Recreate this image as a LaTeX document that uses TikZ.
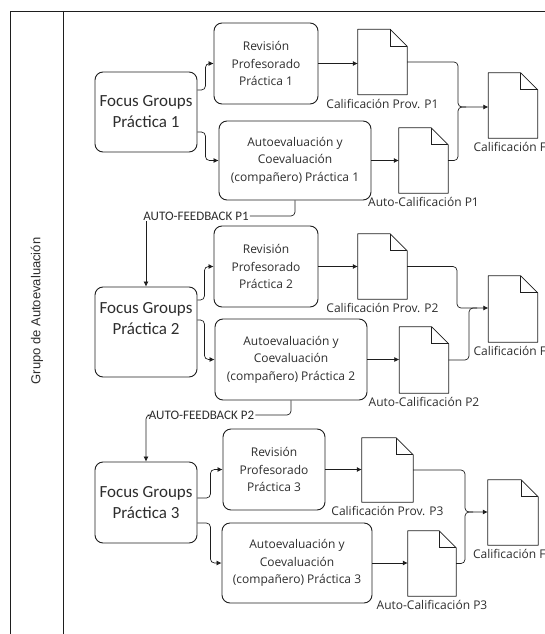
\documentclass[tikz,border=0pt]{standalone}
\usepackage{fontspec}
\setmainfont{Open Sans}
\newfontfamily\calibrifont{Carlito}
\newfontfamily\arialfont{Liberation Sans}
\usetikzlibrary{arrows.meta,positioning,calc}
\definecolor{inkgray}{RGB}{45,45,45}
\definecolor{linegray}{RGB}{30,30,30}

\begin{document}
\begin{tikzpicture}[
  x=1pt, y=-1pt,
  every node/.style={font=\fontsize{12}{17.5}\selectfont, text=inkgray},
  proc/.style={draw=linegray, line width=0.9pt, rounded corners=8pt, align=center, inner sep=2pt},
  focus/.style={proc, minimum width=102pt, font=\calibrifont\fontsize{17}{21}\selectfont},
  doc/.style={minimum width=49pt, minimum height=65pt, inner sep=0pt,
    append after command={\pgfextra{
      \draw[linegray, line width=0.8pt, line join=round] (\tikzlastnode.north west)
        -- ([xshift=-17pt]\tikzlastnode.north east)
        -- ([yshift=-17pt]\tikzlastnode.north east)
        -- (\tikzlastnode.south east) -- (\tikzlastnode.south west) -- cycle;
      \draw[linegray, line width=0.8pt] ([xshift=-17pt]\tikzlastnode.north east)
        |- ([yshift=-17pt]\tikzlastnode.north east);}}},
  lbl/.style={inner sep=1pt},
  fb/.style={inner sep=1pt, font=\calibrifont\fontsize{13}{15}\selectfont},
  link/.style={draw=linegray, line width=0.7pt, rounded corners=4pt},
  conn/.style={link, -{Latex[length=5pt,width=5pt]}}
]
  \useasboundingbox (0,0) rectangle (545,634);
  \clip (0,0) rectangle (545,634);

  % lane frame
  \draw[linegray, line width=0.8pt] (10,640) -- (10,11) -- (560,11);
  \draw[linegray, line width=0.8pt] (63,11) -- (63,640);
  \node[rotate=90, font=\arialfont\fontsize{13}{15}\selectfont] (grp) at (37,311) {Grupo de Autoevaluación};

  % practica 1
  \node[focus, minimum height=80pt] (fg1) at (146,112) {Focus Groups\\Práctica 1};
  \node[proc, minimum width=104pt, minimum height=81pt] (rev1) at (266,63.5) {Revisión\\Profesorado\\Práctica 1};
  \node[proc, minimum width=152pt, minimum height=79pt] (auto1) at (295,160.5) {Autoevaluación y\\Coevaluación\\(compañero) Práctica 1};
  \node[doc] (prov1) at (382.5,62) {};
  \node[doc] (ac1) at (423.5,160.5) {};
  \node[doc] (fin1) at (513,105.5) {};
  \node[lbl, below=3pt of prov1] (prov1l) {Calificación Prov. P1};
  \node[lbl, below=3pt of ac1] (ac1l) {Auto-Calificación P1};
  \node[lbl, anchor=north west] (fin1l) at ([xshift=-16pt,yshift=-3pt]fin1.south west) {Calificación Final};
  \node[fb] (fb1) at (196,216) {AUTO-FEEDBACK P1};
  \coordinate (j1) at (458,107);

  \draw[conn] ([yshift=22pt]fg1.east) -- ++(8,0) |- (rev1.west);
  \draw[conn] ([yshift=-20pt]fg1.east) -- ++(8,0) |- (auto1.west);
  \draw[conn] (rev1.east) -- (rev1.east -| prov1.west);
  \draw[conn] (auto1.east) -- (ac1.west);
  \draw[conn] (prov1.east) -| (j1) -- (j1 -| fin1.west);
  \draw[link] (ac1.east) -| (j1) -- ++(8,0);
  \draw[link] (auto1.south) |- (fb1.east);

  % practica 2
  \node[focus, minimum height=90pt, text depth=28pt] (fg2) at (146,332) {Focus Groups\\Práctica 2};
  \node[proc, minimum width=104pt, minimum height=81pt] (rev2) at (266,266.5) {Revisión\\Profesorado\\Práctica 2};
  \node[proc, minimum width=152pt, minimum height=81pt] (auto2) at (291,359.5) {Autoevaluación y\\Coevaluación\\(compañero) Práctica 2};
  \node[doc] (prov2) at (382.5,266.5) {};
  \node[doc, minimum height=66pt] (ac2) at (424,360) {};
  \node[doc, minimum height=66pt] (fin2) at (513,309) {};
  \node[lbl, below=3pt of prov2] (prov2l) {Calificación Prov. P2};
  \node[lbl, below=3pt of ac2] (ac2l) {Auto-Calificación P2};
  \node[lbl, anchor=north west] (fin2l) at ([xshift=-16pt,yshift=-3pt]fin2.south west) {Calificación Final};
  \node[fb] (fb2) at (201.5,415) {AUTO-FEEDBACK P2};
  \coordinate (j2a) at (457,308);
  \coordinate (j2b) at (469,308);

  \draw[conn] ([yshift=32pt]fg2.east) -- ++(7,0) |- (rev2.west);
  \draw[conn] ([yshift=12pt]fg2.east) -- ++(7,0) |- (auto2.west);
  \draw[conn] (rev2.east) -- (rev2.east -| prov2.west);
  \draw[conn] (auto2.east) -- (auto2.east -| ac2.west);
  \draw[conn] (prov2.east) -| (j2a) -- (j2a -| fin2.west);
  \draw[link] (ac2.east) -| (j2b) -- ++(8,0);
  \draw[link] (auto2.south) |- (fb2.east);

  % practica 3
  \node[focus, minimum height=81pt] (fg3) at (146,502.5) {Focus Groups\\Práctica 3};
  \node[proc, minimum width=102pt, minimum height=81pt] (rev3) at (274,469.5) {Revisión\\Profesorado\\Práctica 3};
  \node[proc, minimum width=150pt, minimum height=80pt] (auto3) at (297,563) {Autoevaluación y\\Coevaluación\\(compañero) Práctica 3};
  \node[doc, minimum width=51pt, minimum height=64pt] (prov3) at (387.5,470) {};
  \node[doc, minimum width=48pt] (ac3) at (432,563.5) {};
  \node[doc, minimum width=50pt] (fin3) at (513,512.5) {};
  \node[lbl, below=3pt of prov3] (prov3l) {Calificación Prov. P3};
  \node[lbl, below=3pt of ac3] (ac3l) {Auto-Calificación P3};
  \node[lbl, anchor=north west] (fin3l) at ([xshift=-16pt,yshift=-3pt]fin3.south west) {Calificación Final};
  \coordinate (j3) at (465,512);

  \draw[conn] ([yshift=4.5pt]fg3.east) -- ++(13,0) |- (rev3.west);
  \draw[conn] ([yshift=-20.5pt]fg3.east) -- ++(13,0) |- (auto3.west);
  \draw[conn] (rev3.east) -- (rev3.east -| prov3.west);
  \draw[conn] (auto3.east) -- (auto3.east -| ac3.west);
  \draw[conn] (prov3.east) -| (j3) -- (j3 -| fin3.west);
  \draw[link] (ac3.east) -| (j3) -- ++(8,0);

  % feedback arrows into the next focus group
  \draw[conn] (fb1.south -| fg2.north) -- (fg2.north);
  \draw[conn] (fb2.west) -| (fg3.north);
\end{tikzpicture}
\end{document}
